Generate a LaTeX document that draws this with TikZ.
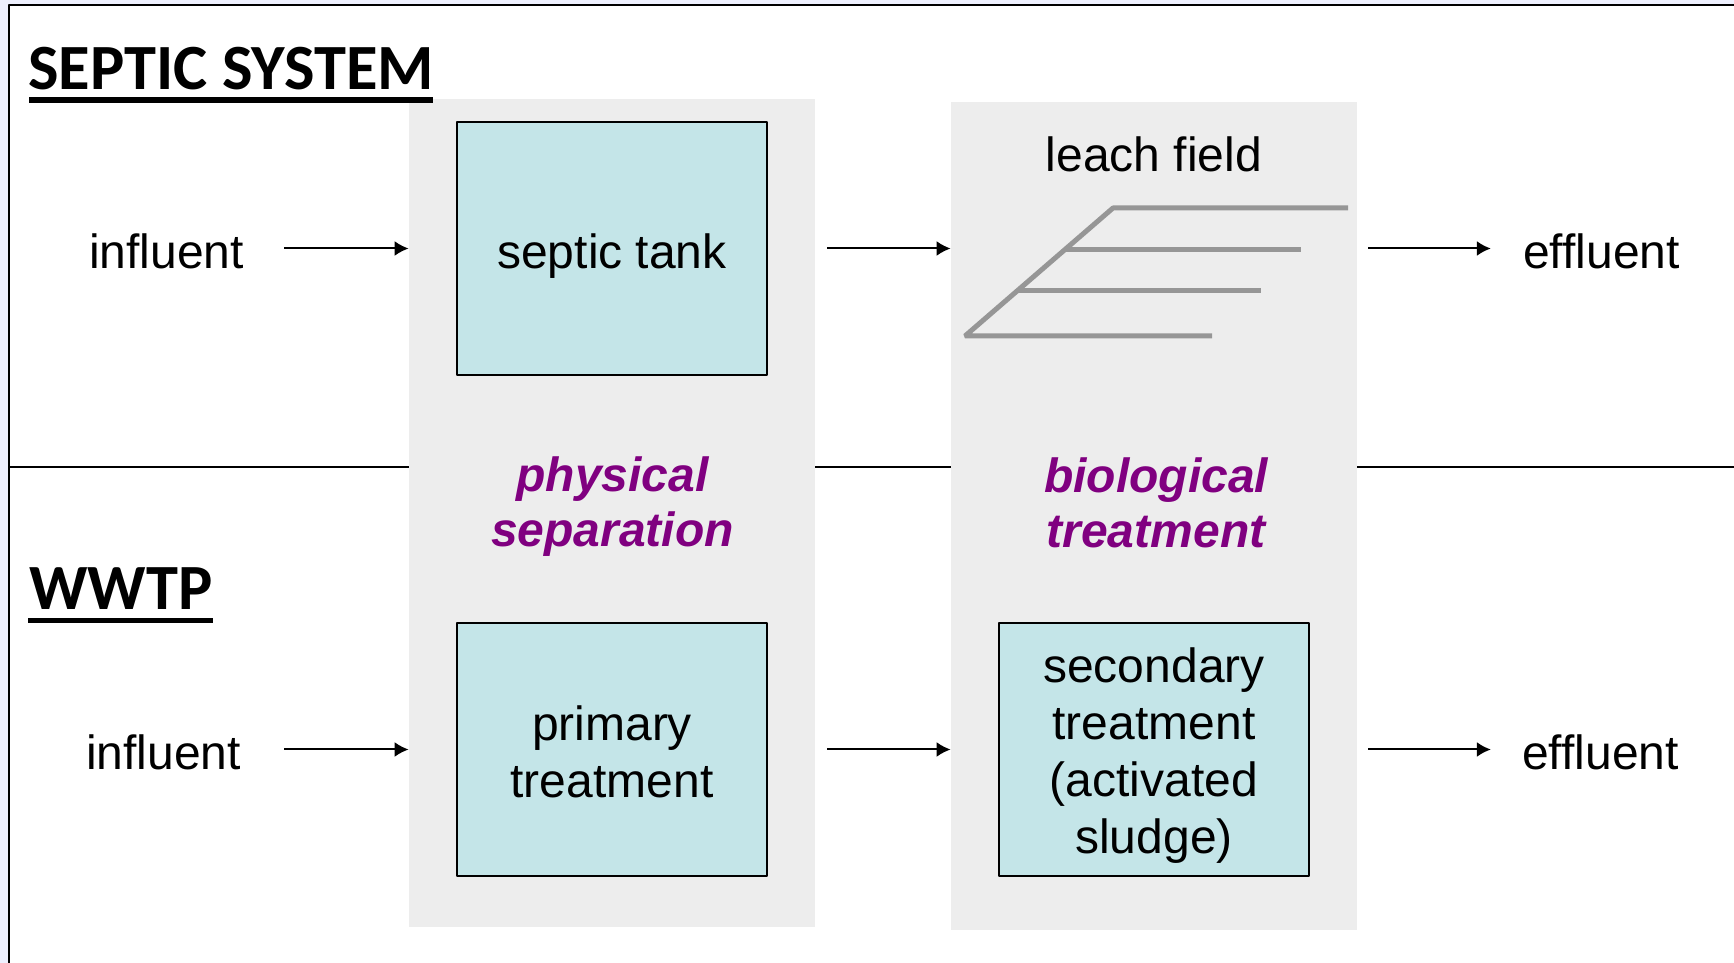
\documentclass[tikz,border=0pt]{standalone}
\usepackage{fontspec}
\setmainfont{Liberation Sans}
\newfontfamily\calibri{Carlito}
\usetikzlibrary{arrows.meta}
\definecolor{bgcol}{RGB}{238,240,254}
\definecolor{panelcol}{RGB}{237,237,237}
\definecolor{stagecol}{RGB}{196,229,232}
\definecolor{leachcol}{RGB}{150,150,150}
\definecolor{kindcol}{RGB}{128,0,128}
\begin{document}
\begin{tikzpicture}[>={Latex[length=7bp,width=7.5bp]},line join=bevel,
  panel/.style={fill=panelcol,minimum width=203bp,minimum height=414bp,inner sep=0pt},
  stage/.style={draw,fill=stagecol,line width=1bp,minimum width=155bp,minimum height=126.5bp,align=center,font={\fontsize{24bp}{28.5bp}\selectfont}},
  flow/.style={inner ysep=0pt,text height=23.4bp,text depth=3.4bp,font={\fontsize{24bp}{28bp}\selectfont}},
  kind/.style={text=kindcol,align=center,inner sep=0pt,font={\fontsize{24bp}{27.5bp}\selectfont\bfseries\itshape}},
  heading/.style={anchor=base west,inner sep=0pt,font={\fontsize{32.25bp}{36bp}\selectfont\calibri\bfseries}},
  uline/.style={line width=2.75bp}]
%%
\fill[bgcol] (0,0) rectangle (867bp,481.5bp);
\useasboundingbox (0,0) rectangle (867bp,481.5bp);
\fill[white] (4.5bp,0) rectangle (867bp,479bp);
\draw[line width=1.2bp] (4.5bp,0) -- (4.5bp,479bp) -- (867bp,479bp);
\draw[line width=1.2bp] (4.5bp,248bp) -- (867bp,248bp);
%
  \node (phys) at (306bp,225bp) [panel] {};
  \node (bio) at (577bp,223.5bp) [panel] {};
  \node (tank) at (306bp,357.25bp) [stage,text height=23.4bp,text depth=3.4bp] {septic tank};
  \node (prim) at (306bp,106.75bp) [stage] {\rule{0pt}{19.5bp}primary\\treatment};
  \node (sec) at (577bp,106.75bp) [stage] {\rule{0pt}{23.5bp}secondary\\treatment\\(activated\\sludge)};
  \node (sepa) at (306.25bp,228.25bp) [kind] {physical\\separation};
  \node (treat) at (578bp,230bp) [kind] {biological\\treatment};
  \node (leach) at (577bp,405.5bp) [inner sep=0pt,text height=23.4bp,text depth=3.4bp,font={\fontsize{24bp}{28bp}\selectfont}] {leach field};
  \node (inA) at (83.25bp,357.25bp) [flow,inner xsep=20bp] {influent};
  \node (outA) at (800.75bp,357.25bp) [flow,inner xsep=16bp] {effluent};
  \node (inB) at (81.75bp,106.75bp) [flow,inner xsep=21.5bp] {influent};
  \node (outB) at (800.25bp,106.75bp) [flow,inner xsep=15.5bp] {effluent};
  \node (septic) at (14bp,436.5bp) [heading] {SEPTIC SYSTEM};
  \node (wwtp) at (14.5bp,176.5bp) [heading] {WWTP};
  \draw [uline] ([xshift=0.5bp,yshift=-5bp]septic.base west) -- ([xshift=-0.5bp,yshift=-5bp]septic.base east);
  \draw [uline] ([xshift=-0.5bp,yshift=-5.25bp]wwtp.base west) -- ([yshift=-5.25bp]wwtp.base east);
%
  \draw [->,line width=1bp] (inA) -- (inA -| phys.west);
  \draw [->,line width=1bp,shorten <=6bp] (phys.east |- tank) -- (bio.west |- tank);
  \draw [->,line width=1bp,shorten <=5.5bp] (bio.east |- tank) -- (outA);
  \draw [->,line width=1bp] (inB) -- (inB -| phys.west);
  \draw [->,line width=1bp,shorten <=6bp] (phys.east |- prim) -- (sec -| bio.west);
  \draw [->,line width=1bp,shorten <=5.5bp] (bio.east |- prim) -- (outB);
%
  \draw [leachcol,line width=2.5bp] (606bp,313.5bp) -- (482.5bp,313.5bp) -- (556.5bp,377.5bp) -- (674bp,377.5bp);
  \draw [leachcol,line width=2.5bp] (532.2bp,356.5bp) -- (650.5bp,356.5bp);
  \draw [leachcol,line width=2.5bp] (508.5bp,336bp) -- (630.5bp,336bp);
%
\end{tikzpicture}
\end{document}
